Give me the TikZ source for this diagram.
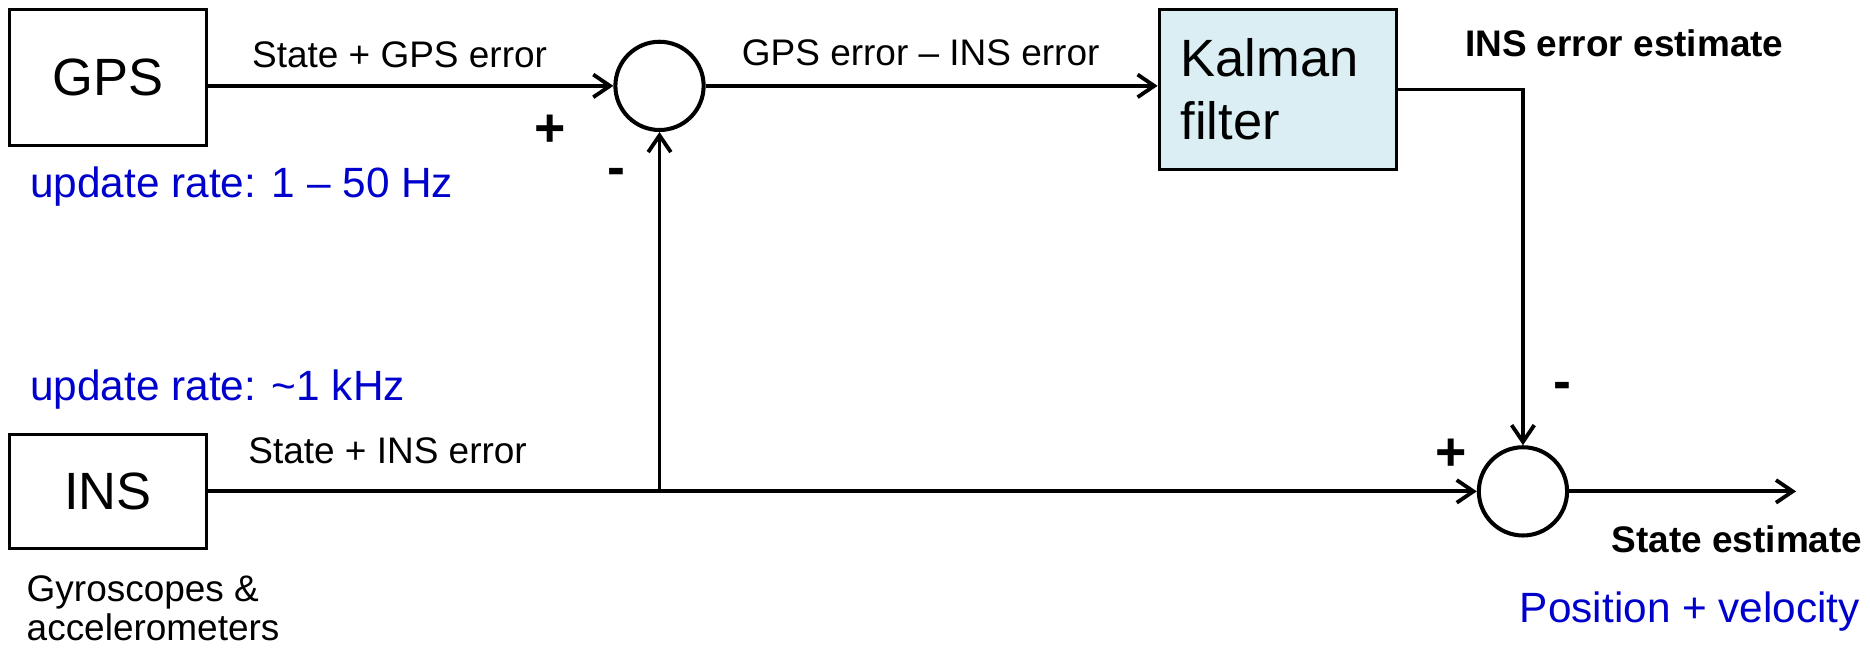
\documentclass[tikz,border=0pt]{standalone}
\usepackage{fontspec}
\setmainfont{Liberation Sans}
\usetikzlibrary{arrows.meta}
\definecolor{rateblue}{RGB}{0,0,204}
\definecolor{kalfill}{RGB}{218,238,243}
\begin{document}
\begin{tikzpicture}[x=0.5pt,y=-0.5pt,
  block/.style={draw, line width=1.3pt, inner sep=0pt, font=\fontsize{22}{26.5}\selectfont},
  sum/.style={circle, draw, line width=1.7pt, minimum size=37pt, inner sep=0pt},
  conn/.style={line width=1.6pt, -{Straight Barb[length=7pt,width=9.5pt]}},
  lbl/.style={font=\fontsize{15.5}{18.5}\selectfont, inner sep=0pt},
  boldlbl/.style={font=\fontsize{15.5}{18.5}\selectfont\bfseries, inner sep=0pt},
  sign/.style={font=\fontsize{22.5}{24}\selectfont\bfseries, inner sep=0pt},
  rate/.style={font=\fontsize{17.75}{21}\selectfont, text=rateblue, inner sep=0pt}]
\useasboundingbox (0,0) rectangle (1568,543);

% blocks
\node[block, minimum width=82.5pt, minimum height=57pt] (gps) at (90.5,65) {GPS};
\node[block, minimum width=82.5pt, minimum height=48pt] (ins) at (90.5,412) {INS};
\node[block, fill=kalfill, minimum height=67pt, text width=81.5pt, inner xsep=9pt, align=left] (kal) at (1071.5,75) {Kalman\\filter};

% summing junctions
\node[sum] (s1) at (553,72) {};
\node[sum] (s2) at (1277,412) {};
\coordinate (j) at (553,412);
\coordinate (out) at (1506,412);

% connectors
\draw[conn] (gps.east |- s1.west) -- (s1.west);
\draw[conn] (s1.east) -- (kal.west |- s1.east);
\draw[conn] (kal.east) -- (kal.east -| s2.north) -- (s2.north);
\draw[conn] (ins.east) -- (s2.west);
\draw[conn] (j) -- (s1.south);
\draw[conn] (s2.east) -- (out);

% signal labels
\node[lbl] (lgps) at (335,46) {State + GPS error};
\node[lbl] (lerr) at (772,44) {GPS error – INS error};
\node[lbl] (lins) at (325,378) {State + INS error};
\node[boldlbl] (lest) at (1362,36) {INS error estimate};
\node[boldlbl, anchor=east] (lstate) at (1562,452) {State estimate};
\node[rate, anchor=east] (lpos) at (1560,513) {Position + velocity};
\node[rate, anchor=west] (r1) at (25,156) {update rate: 1 – 50 Hz};
\node[rate, anchor=west] (r2) at (25,327) {update rate: \textasciitilde1 kHz};
\node[lbl, font=\fontsize{15.5}{16.5}\selectfont, anchor=north west, align=left] (gyro) at (22,482) {Gyroscopes \&\\accelerometers};

% signs at the junctions
\node[sign] (p1) at (461,110) {+};
\node[sign] (m1) at (517,148) {-};
\node[sign] (p2) at (1217,381) {+};
\node[sign] (m2) at (1310,328) {-};
\end{tikzpicture}
\end{document}
